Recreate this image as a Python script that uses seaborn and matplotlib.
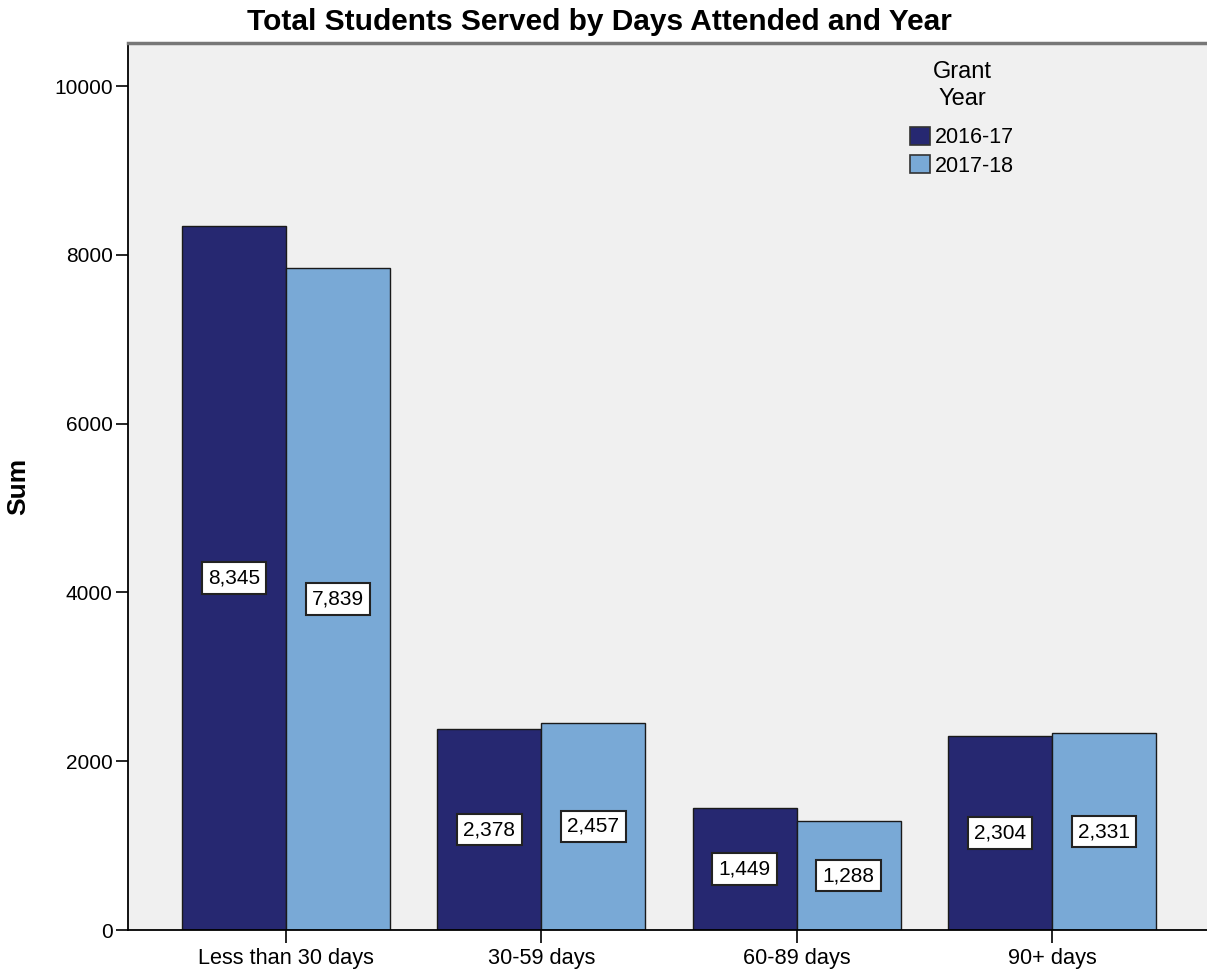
import matplotlib
matplotlib.use("Agg")
import matplotlib.pyplot as plt
import seaborn as sns
import pandas as pd

categories = ["Less than 30 days", "30-59 days", "60-89 days", "90+ days"]
years = ["2016-17", "2017-18"]
values_2016 = [8345, 2378, 1449, 2304]
values_2017 = [7839, 2457, 1288, 2331]
yticks = [0, 2000, 4000, 6000, 8000, 10000]

df = pd.DataFrame({
    "Days": categories * 2,
    "Grant Year": [years[0]] * 4 + [years[1]] * 4,
    "Sum": values_2016 + values_2017,
})

sns.set_theme(style="white")
plt.rcParams["font.family"] = ["Liberation Sans", "DejaVu Sans"]
plt.rcParams.update({"text.color": "black", "axes.labelcolor": "black",
                     "xtick.color": "black", "ytick.color": "black"})

fig = plt.figure(figsize=(12.07, 9.73), dpi=100)
ax = fig.add_axes([128 / 1207, 1 - 930 / 973, 1 - 128 / 1207, (930 - 43) / 973])
ax.set_facecolor("#F0F0F0")

palette = {"2016-17": "#262871", "2017-18": "#79A9D6"}
sns.barplot(data=df, x="Days", y="Sum", hue="Grant Year", order=categories,
            hue_order=years, palette=palette, width=0.815, edgecolor="#1a1a1a",
            linewidth=1.0, saturation=1, ax=ax, errorbar=None)

for cont in ax.containers:
    ax.bar_label(cont, labels=[f"{v:,.0f}" for v in cont.datavalues],
                 label_type="center", fontsize=15, color="black",
                 bbox=dict(boxstyle="square,pad=0.3", facecolor="white",
                           edgecolor="#222222", linewidth=1.5))

ax.set_xlim(-0.619, 3.607)
ax.set_ylim(0, 10510)
ax.set_yticks(yticks)
ax.set_yticklabels([str(t) for t in yticks], fontsize=15)
ax.tick_params(axis="x", labelsize=15.7, length=9, width=1.2, color="black",
               direction="out", bottom=True, pad=4)
ax.tick_params(axis="y", length=9, width=1.2, color="black", direction="out",
               left=True, pad=2)
ax.set_xlabel("")
ax.set_ylabel("Sum", fontsize=19, fontweight="bold")
ax.yaxis.set_label_coords((30 - 128) / 1079, 0.5)

for s in ["left", "bottom"]:
    ax.spines[s].set_color("black")
    ax.spines[s].set_linewidth(1.3)
ax.spines["top"].set_color("#777777")
ax.spines["top"].set_linewidth(2.5)
ax.spines["right"].set_visible(False)

fig.text(599 / 1207, 1 - 22.5 / 973, "Total Students Served by Days Attended and Year",
         fontsize=21.5, fontweight="bold", ha="center", va="center")

leg = ax.legend(title="Grant\nYear", loc="upper left",
                bbox_to_anchor=((910 - 128) / 1079, (930 - 61) / 887),
                frameon=False, fontsize=15.5, title_fontsize=17,
                handlelength=0.95, handleheight=0.95, handletextpad=0.2,
                labelspacing=0.3, borderpad=0, borderaxespad=0)
leg.get_title().set_multialignment("center")
leg.get_title().set_linespacing(1.3)
for h in leg.legend_handles:
    h.set_edgecolor("#333333")
    h.set_linewidth(1.2)
leg._legend_box.sep = 12

fig.savefig("out.png", dpi=100)
